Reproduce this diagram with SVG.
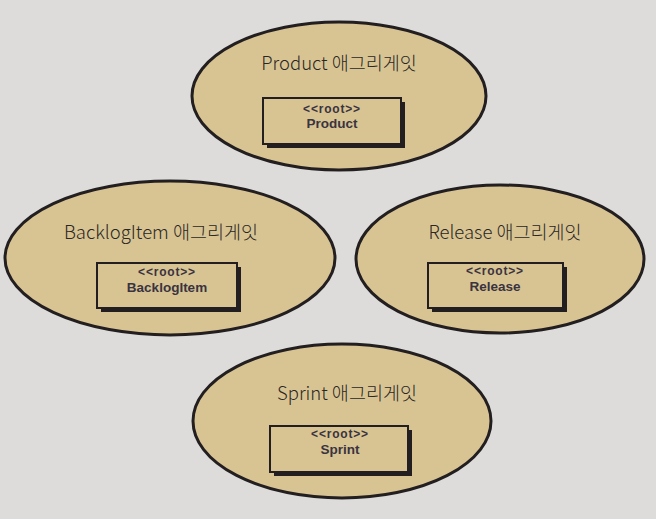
<svg xmlns="http://www.w3.org/2000/svg" width="656" height="519" viewBox="0 0 656 519">
<style>
.agg{fill:#d8c493;stroke:#231f20;stroke-width:3}
.title{font-family:"Noto Sans CJK KR","Noto Sans",sans-serif;font-size:18.5px;font-weight:300;fill:#2a2624;text-anchor:middle}
.shadow{fill:#231f20}
.box{fill:#d8c493;stroke:#231f20;stroke-width:2}
.st{font-family:"Liberation Sans",Arial,sans-serif;font-size:12px;font-weight:bold;letter-spacing:0.8px;fill:#3a3340;text-anchor:middle}
.nm{font-family:"Liberation Sans",Arial,sans-serif;font-size:13.5px;font-weight:bold;fill:#3a3340;text-anchor:middle}
</style>
<rect width="656" height="519" fill="#dddcda"/>
<g id="product">
<ellipse class="agg" cx="339" cy="96" rx="147" ry="74"/>
<text class="title" x="339" y="70">Product 애그리게잇</text>
<rect class="shadow" x="267" y="102" width="138" height="46"/>
<rect class="box" x="263" y="98" width="138" height="46"/>
<text class="st" x="332" y="113">&lt;&lt;root&gt;&gt;</text>
<text class="nm" x="332" y="128">Product</text>
</g>
<g id="backlogitem">
<ellipse class="agg" cx="170" cy="258" rx="165" ry="77"/>
<text class="title" x="161" y="239">BacklogItem 애그리게잇</text>
<rect class="shadow" x="101" y="267" width="140" height="45"/>
<rect class="box" x="97" y="263" width="140" height="45"/>
<text class="st" x="167" y="276">&lt;&lt;root&gt;&gt;</text>
<text class="nm" x="167" y="292">BacklogItem</text>
</g>
<g id="release">
<ellipse class="agg" cx="500" cy="259" rx="144" ry="74"/>
<text class="title" x="505" y="239">Release 애그리게잇</text>
<rect class="shadow" x="432" y="267" width="135" height="45"/>
<rect class="box" x="428" y="263" width="135" height="45"/>
<text class="st" x="495" y="275">&lt;&lt;root&gt;&gt;</text>
<text class="nm" x="495" y="291">Release</text>
</g>
<g id="sprint">
<ellipse class="agg" cx="342" cy="421" rx="149" ry="77"/>
<text class="title" x="347" y="400">Sprint 애그리게잇</text>
<rect class="shadow" x="274" y="430" width="138" height="46"/>
<rect class="box" x="270" y="426" width="138" height="46"/>
<text class="st" x="340" y="438">&lt;&lt;root&gt;&gt;</text>
<text class="nm" x="340" y="454">Sprint</text>
</g>
<g id="connectors"/>
</svg>
